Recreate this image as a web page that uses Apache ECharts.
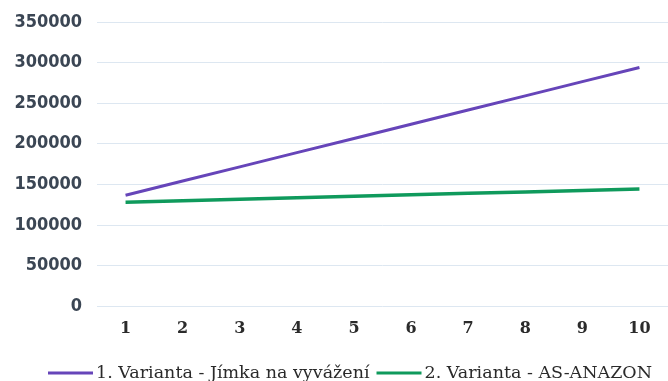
<!DOCTYPE html>
<html>
<head>
<meta charset="utf-8">
<script src="https://cdn.jsdelivr.net/npm/echarts@6/dist/echarts.min.js"></script>
<style>
  html, body { margin: 0; padding: 0; background: #ffffff; }
  #chart { width: 668px; height: 381px; }
</style>
</head>
<body>
<div id="chart"></div>
<script>
// Years of operation
const years = ['1', '2', '3', '4', '5', '6', '7', '8', '9', '10'];

// Cumulative costs per variant
const variant1Name = '1. Varianta - Jímka na vyvážení';
const variant1 = [136500, 154000, 171500, 189000, 206500, 224000, 241500, 259000, 276500, 294000];

const variant2Name = '2. Varianta - AS-ANAZON';
const variant2 = [128000, 129800, 131600, 133400, 135200, 137000, 138800, 140600, 142400, 144200];

const chart = echarts.init(document.getElementById('chart'), null, { renderer: 'canvas' });

chart.setOption({
  animation: false,
  backgroundColor: '#ffffff',
  grid: { left: 97, top: 22, width: 582, height: 284, containLabel: false },
  xAxis: {
    type: 'category',
    data: years,
    boundaryGap: true,
    axisLine: { show: false },
    axisTick: { show: false },
    axisLabel: {
      margin: 15,
      color: '#2b2b2b',
      fontFamily: 'DejaVu Serif',
      fontWeight: 'bold',
      fontSize: 16
    }
  },
  yAxis: {
    type: 'value',
    min: 0,
    max: 350000,
    interval: 50000,
    axisLine: { show: false },
    axisTick: { show: false },
    splitLine: { lineStyle: { color: '#dde7f1', width: 1 } },
    axisLabel: {
      margin: 15,
      color: '#3b4654',
      fontFamily: 'DejaVu Sans Condensed',
      fontWeight: 'bold',
      fontSize: 18,
      formatter: (v) => String(v)
    }
  },
  legend: {
    left: 48,
    top: 364,
    padding: 0,
    itemWidth: 45,
    itemHeight: 3,
    itemGap: 7,
    icon: 'rect',
    textStyle: {
      color: '#2a2a2a',
      fontFamily: 'DejaVu Serif',
      fontSize: 17.5,
      padding: [0, 0, 0, -2]
    },
    data: [variant1Name, variant2Name]
  },
  series: [
    {
      name: variant1Name,
      type: 'line',
      data: variant1,
      symbol: 'none',
      lineStyle: { color: '#6645b9', width: 3 },
      itemStyle: { color: '#6645b9' }
    },
    {
      name: variant2Name,
      type: 'line',
      data: variant2,
      symbol: 'none',
      lineStyle: { color: '#0f9a5c', width: 3.5 },
      itemStyle: { color: '#0f9a5c' }
    }
  ]
});
</script>
</body>
</html>
